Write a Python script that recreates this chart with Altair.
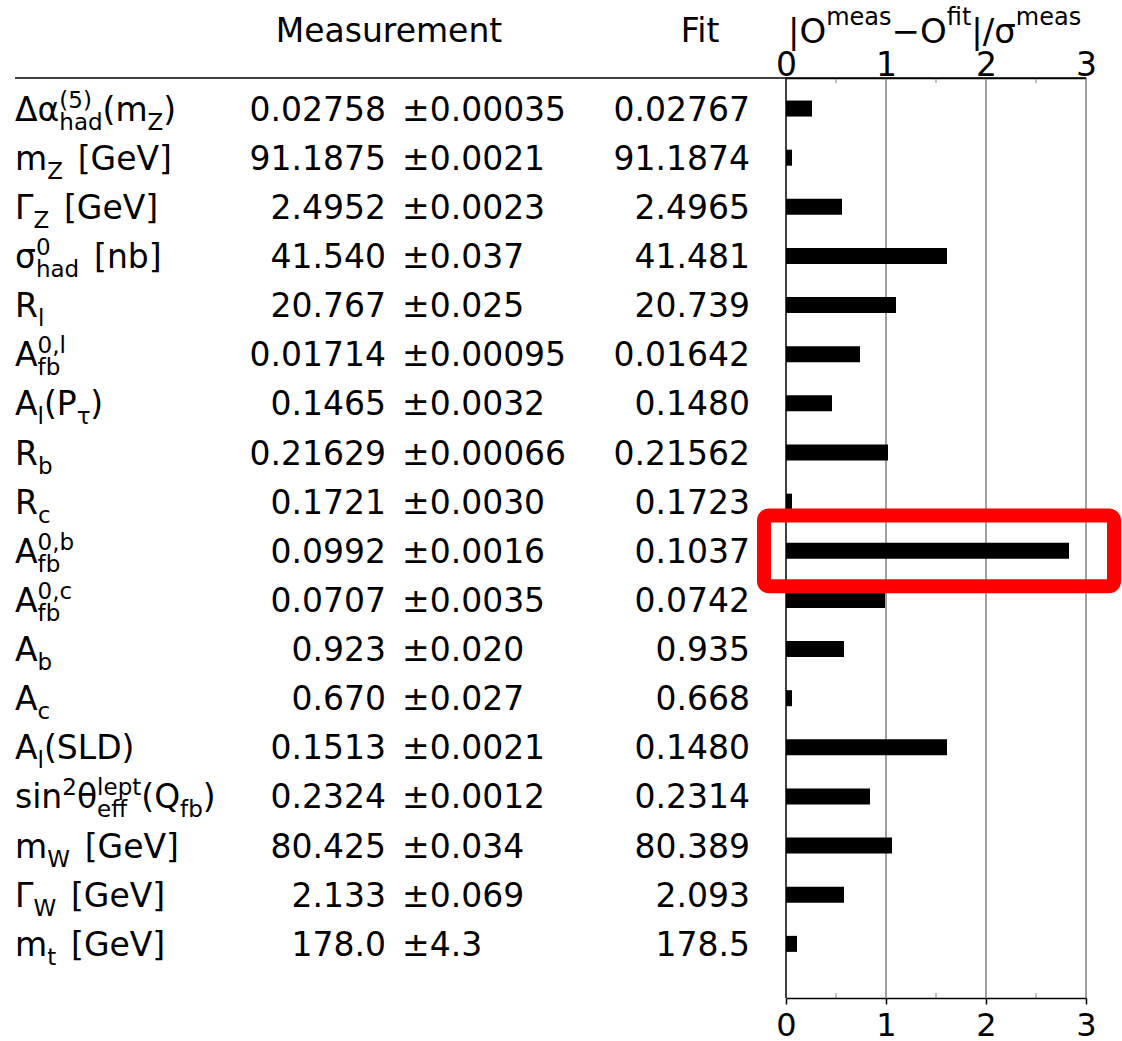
import altair as alt
import pandas as pd

# ---------------- data ----------------
labels = [
    "Δα^{(5)}_{had}(m_{Z})", "m_{Z} [GeV]", "Γ_{Z} [GeV]", "σ^{0}_{had} [nb]",
    "R_{l}", "A^{0,l}_{fb}", "A_{l}(P_{τ})", "R_{b}", "R_{c}",
    "A^{0,b}_{fb}", "A^{0,c}_{fb}", "A_{b}", "A_{c}", "A_{l}(SLD)",
    "sin^{2}θ^{lept}_{eff}(Q_{fb})", "m_{W} [GeV]", "Γ_{W} [GeV]", "m_{t} [GeV]",
]
meas = ["0.02758", "91.1875", "2.4952", "41.540", "20.767", "0.01714", "0.1465",
        "0.21629", "0.1721", "0.0992", "0.0707", "0.923", "0.670", "0.1513",
        "0.2324", "80.425", "2.133", "178.0"]
errs = ["0.00035", "0.0021", "0.0023", "0.037", "0.025", "0.00095", "0.0032",
        "0.00066", "0.0030", "0.0016", "0.0035", "0.020", "0.027", "0.0021",
        "0.0012", "0.034", "0.069", "4.3"]
fits = ["0.02767", "91.1874", "2.4965", "41.481", "20.739", "0.01642", "0.1480",
        "0.21562", "0.1723", "0.1037", "0.0742", "0.935", "0.668", "0.1480",
        "0.2314", "80.389", "2.093", "178.5"]
pulls = [0.26, 0.06, 0.56, 1.61, 1.10, 0.74, 0.46, 1.02, 0.06, 2.83, 0.99,
         0.58, 0.06, 1.61, 0.84, 1.06, 0.58, 0.11]
headers = ["Measurement", "Fit"]
axis_title = "|O^{meas}−O^{fit}|/σ^{meas}"
major_ticks = [0, 1, 2, 3]
minor_ticks = [0.5, 1.5, 2.5]
highlight_rows = [10]

# ---------------- layout / style ----------------
FONT = "DejaVu Sans"
MAIN = 33
SMALL = 23
LEFT, TOP = 786, 78
PW, PH = 300, 920
rows = list(range(1, len(labels) + 1))

WID = {' ': 450, '(': 390, ')': 390, '[': 390, ']': 390, ',': 318, '.': 318,
       '/': 337, '|': 337, '±': 838, '−': 838, 'A': 684, 'D': 770, 'G': 775,
       'L': 557, 'O': 787, 'P': 603, 'Q': 787, 'R': 695, 'S': 635, 'V': 684,
       'W': 989, 'Z': 685, 'a': 613, 'b': 635, 'c': 550, 'd': 635, 'e': 615,
       'f': 352, 'h': 634, 'i': 278, 'l': 278, 'm': 974, 'n': 634, 'p': 635,
       's': 521, 't': 392, 'Δ': 684, 'Γ': 557, 'α': 659, 'σ': 634, 'τ': 583,
       'θ': 612}


def tw(s, size):
    return sum(WID.get(ch, 636) for ch in s) * size / 1000.0


def parse(s):
    toks, buf, i = [], "", 0
    while i < len(s):
        c = s[i]
        if c in "^_" and i + 1 < len(s) and s[i + 1] == "{":
            j = s.index("}", i)
            if buf:
                toks.append(("n", buf))
                buf = ""
            toks.append(("p" if c == "^" else "b", s[i + 2:j]))
            i = j + 1
        else:
            buf += c
            i += 1
    if buf:
        toks.append(("n", buf))
    return toks


def layout(s, big, small):
    toks = parse(s)
    out, x, i = [], 0.0, 0
    while i < len(toks):
        role, t = toks[i]
        if role == "p" and i + 1 < len(toks) and toks[i + 1][0] == "b":
            t2 = toks[i + 1][1]
            out.append(("p", t, x))
            out.append(("b", t2, x))
            x += max(tw(t, small), tw(t2, small))
            i += 2
            continue
        size = big if role == "n" else small
        lead = len(t) - len(t.lstrip(" "))
        if lead:
            # leading blanks are collapsed by SVG: advance explicitly
            x += tw(t[:lead], size)
            t = t[lead:]
        out.append((role, t, x))
        x += tw(t, size)
        i += 1
    return out


seg = []
for r, lab in zip(rows, labels):
    for role, text, xo in layout(lab, MAIN, SMALL):
        seg.append(dict(row=r, role=role, text=text, px=15 - LEFT + xo))
seg_df = pd.DataFrame(seg)

tseg = []
for role, text, xo in layout(axis_title, 34, 24):
    tseg.append(dict(role=role, text=text, px=2 + xo))
tseg_df = pd.DataFrame(tseg)

tab = pd.DataFrame({
    "row": rows,
    "meas": meas,
    "err": ["±" + e for e in errs],
    "fit": fits,
    "pull": pulls,
})

yscale = alt.Scale(domain=[0.48, 19.0], reverse=True, nice=False, zero=False)
xscale = alt.Scale(domain=[0, 3], nice=False)
GRAY = "#808080"

Y = alt.Y("row:Q", scale=yscale, axis=None)


def label_layer(role, size, dy):
    return alt.Chart(seg_df).transform_filter(f"datum.role == '{role}'").mark_text(
        align="left", baseline="alphabetic", font=FONT, fontSize=size, dy=dy, color="black"
    ).encode(x=alt.X("px:Q", scale=None, axis=None), y=Y, text="text:N")


def title_layer(role, size, ypix):
    return alt.Chart(tseg_df).transform_filter(f"datum.role == '{role}'").mark_text(
        align="left", baseline="alphabetic", font=FONT, fontSize=size, color="black"
    ).encode(x=alt.X("px:Q", scale=None, axis=None), y=alt.value(ypix), text="text:N")


grid = alt.Chart(pd.DataFrame({"g": major_ticks})).mark_rule(strokeWidth=1.5).encode(
    x=alt.X("g:Q", scale=xscale, axis=alt.Axis(
        orient="top", values=major_ticks, format="d", grid=False, ticks=False,
        domain=True, domainColor="black", domainWidth=1.5,
        labelFont=FONT, labelFontSize=33, labelColor="black",
        labelBaseline="alphabetic", labelPadding=3, labelFlush=False,
        labelOverlap=False, title=None)),
    y=alt.value(0), y2=alt.value(PH),
    color=alt.condition("datum.g == 0", alt.value("black"), alt.value(GRAY)),
)

minor_top = alt.Chart(pd.DataFrame({"m": minor_ticks})).mark_rule(color=GRAY, strokeWidth=1).encode(
    x=alt.X("m:Q", scale=xscale, axis=None), y=alt.value(0), y2=alt.value(5))
minor_bot = alt.Chart(pd.DataFrame({"m": minor_ticks})).mark_rule(color=GRAY, strokeWidth=1).encode(
    x=alt.X("m:Q", scale=xscale, axis=None), y=alt.value(PH - 5), y2=alt.value(PH))

top_line = alt.Chart(pd.DataFrame({"a": [0]})).mark_rule(color="black", strokeWidth=1.5).encode(
    x=alt.value(15 - LEFT), x2=alt.value(PW), y=alt.value(0))

bars = alt.Chart(tab).mark_bar(size=16, orient="horizontal", color="black").encode(
    x=alt.X("pull:Q", scale=xscale, axis=alt.Axis(
        orient="bottom", values=major_ticks, format="d", grid=False,
        domainColor="black", domainWidth=1.5, tickColor="black", tickWidth=1.5,
        tickSize=6, labelFont=FONT, labelFontSize=32, labelColor="black",
        labelPadding=6, labelFlush=False, labelOverlap=False, title=None)),
    y=Y,
)

meas_layer = alt.Chart(tab).mark_text(align="right", baseline="alphabetic", font=FONT,
                                      fontSize=MAIN, dy=12, color="black").encode(
    x=alt.value(386 - LEFT), y=Y, text="meas:N")
err_layer = alt.Chart(tab).mark_text(align="left", baseline="alphabetic", font=FONT,
                                     fontSize=MAIN, dy=12, color="black").encode(
    x=alt.value(402 - LEFT), y=Y, text="err:N")
fit_layer = alt.Chart(tab).mark_text(align="right", baseline="alphabetic", font=FONT,
                                     fontSize=MAIN, dy=12, color="black").encode(
    x=alt.value(750 - LEFT), y=Y, text="fit:N")

head_df = pd.DataFrame({"h": headers, "px": [389 - LEFT, 700 - LEFT]})
head_layer = alt.Chart(head_df).mark_text(align="center", baseline="alphabetic", font=FONT,
                                          fontSize=MAIN, color="black").encode(
    x=alt.X("px:Q", scale=None, axis=None), y=alt.value(42 - TOP), text="h:N")

box = alt.Chart(pd.DataFrame({"row": highlight_rows})).transform_calculate(
    y0="datum.row - 0.72", y1="datum.row + 0.72"
).mark_rect(fillOpacity=0, stroke="#ff0000", strokeWidth=14, cornerRadius=5).encode(
    x=alt.value(764 - LEFT), x2=alt.value(1114 - LEFT),
    y=alt.Y("y0:Q", scale=yscale, axis=None), y2="y1:Q")

chart = alt.layer(
    grid, minor_top, minor_bot, top_line, bars,
    label_layer("n", MAIN, 12), label_layer("b", SMALL, 21), label_layer("p", SMALL, -1),
    meas_layer, err_layer, fit_layer, head_layer,
    title_layer("n", 34, 43 - TOP), title_layer("p", 24, 25 - TOP),
    box,
).properties(
    width=PW, height=PH,
    padding={"left": LEFT, "top": TOP, "right": 1122 - LEFT - PW, "bottom": 1041 - TOP - PH},
    autosize=alt.AutoSizeParams(type="none"),
).resolve_scale(x="independent").resolve_axis(x="independent").configure_view(strokeWidth=0)

chart.save("out.html", embed_options={"renderer": "svg", "actions": False})
